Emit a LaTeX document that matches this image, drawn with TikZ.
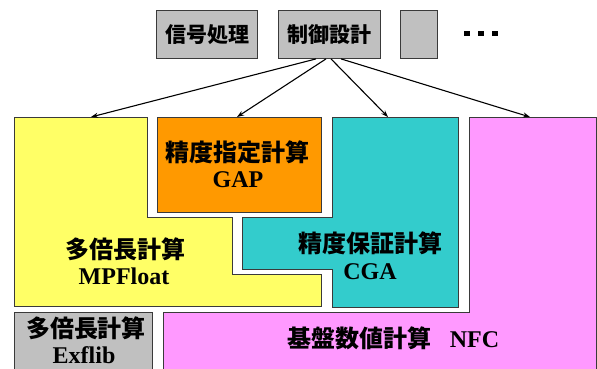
\documentclass[tikz,border=0pt]{standalone}
\usepackage{fontspec}
\setmainfont{Liberation Serif}
\newfontfamily\cjk{Noto Sans CJK JP}
\usetikzlibrary{arrows.meta}
\definecolor{boxgray}{HTML}{C0C0C0}
\definecolor{myyellow}{HTML}{FFFF66}
\definecolor{myorange}{HTML}{FF9900}
\definecolor{myteal}{HTML}{33CCCC}
\definecolor{mypink}{HTML}{FF99FF}
\definecolor{edge}{HTML}{3A3A3A}
\tikzset{
  topbox/.style={draw=edge, line width=0.8pt, fill=boxgray, minimum height=48pt, inner sep=0pt, font=\cjk\bfseries\fontsize{21}{24}\selectfont},
  region/.style={draw=edge, line width=0.8pt},
  jlabel/.style={inner sep=0pt, font=\cjk\bfseries\fontsize{24}{28}\selectfont},
  llabel/.style={inner sep=0pt, anchor=base, font=\bfseries\fontsize{24}{28}\selectfont},
  dot/.style={fill=black, minimum width=6pt, minimum height=5pt, inner sep=0pt},
  link/.style={line width=1.1pt, -{Stealth[length=7pt,width=5pt]}}
}
\begin{document}
\begin{tikzpicture}[x=1pt,y=-1pt]
\clip (0,0) rectangle (597,369);
\fill[white] (0,0) rectangle (597,369);

% top row
\node[topbox, minimum width=101pt] (sig) at (207,34.5) {信号処理};
\node[topbox, minimum width=102pt] (ctl) at (329,34.5) {制御設計};
\node[topbox, minimum width=37pt] (blank) at (418.5,34.5) {};
\node[dot] (d1) at (467,34) {};
\node[dot] (d2) at (481,34) {};
\node[dot] (d3) at (494.5,34) {};

% regions
\draw[region, fill=myyellow] (14,117) -- (147,117) -- (147,217) -- (232,217) -- (232,274) -- (321,274) -- (321,306) -- (14,306) -- cycle;
\draw[region, fill=myorange] (157,117) rectangle (321,212);
\draw[region, fill=myteal] (332,117) -- (458,117) -- (458,307) -- (332,307) -- (332,269) -- (242,269) -- (242,217) -- (332,217) -- cycle;
\draw[region, fill=mypink] (469,117) -- (596,117) -- (596,375) -- (163,375) -- (163,312) -- (469,312) -- cycle;
\draw[region, fill=boxgray] (14,312) rectangle (152,375);

% labels
\node[jlabel] (gapj) at (237.5,152.5) {精度指定計算};
\node[llabel] (gapl) at (238,187) {GAP};
\node[jlabel] (mpj) at (125,249) {多倍長計算};
\node[llabel] (mpl) at (124,284) {MPFloat};
\node[jlabel] (cgaj) at (370,243.5) {精度保証計算};
\node[llabel] (cgal) at (370,279) {CGA};
\node[jlabel] (exj) at (86,328) {多倍長計算};
\node[llabel] (exl) at (84,363) {Exflib};
\node[jlabel] (nfcj) at (359,338.5) {基盤数値計算};
\node[llabel] (nfcl) at (474.5,347) {NFC};

% arrow targets
\coordinate (tY) at (91,117);
\coordinate (tO) at (237,117);
\coordinate (tT) at (388,117);
\coordinate (tP) at (530,117);

\draw[link] ([xshift=-13pt]ctl.south) -- (tY);
\draw[link] ([xshift=-3pt]ctl.south) -- (tO);
\draw[link] ([xshift=2pt]ctl.south) -- (tT);
\draw[link] ([xshift=12pt]ctl.south) -- (tP);
\end{tikzpicture}
\end{document}
